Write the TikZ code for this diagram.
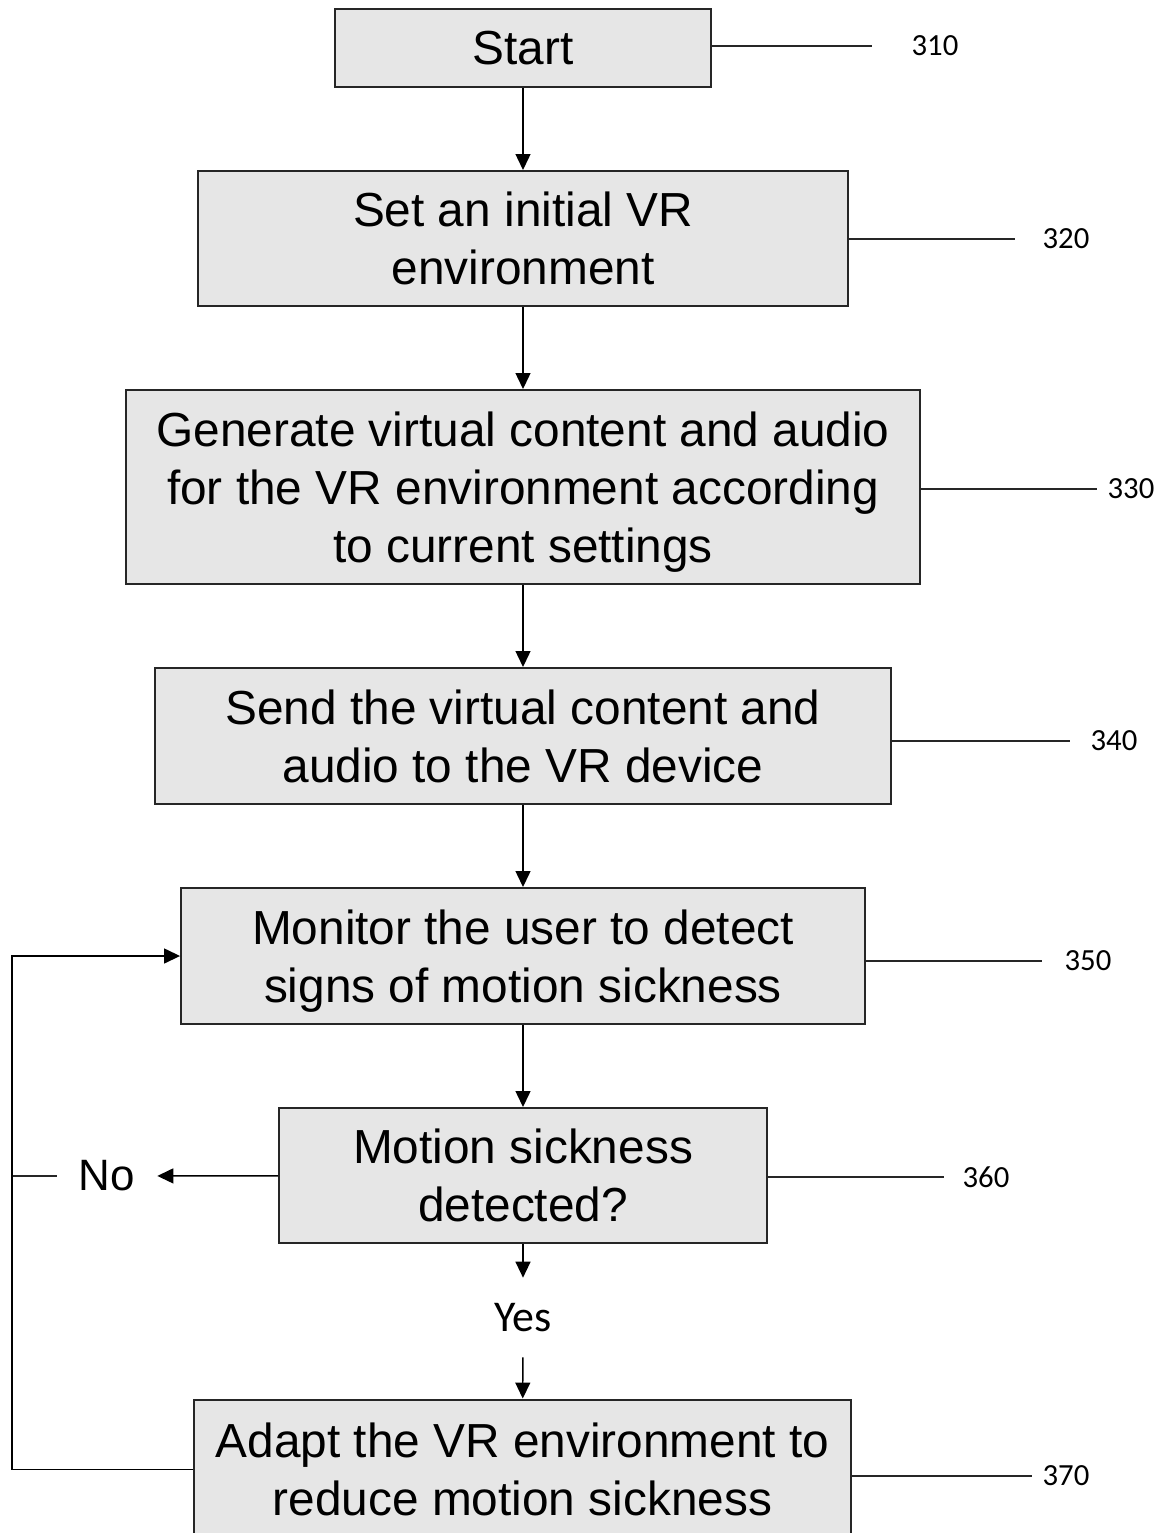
\documentclass[tikz,border=0pt]{standalone}
\usepackage{fontspec}
\setmainfont{Liberation Sans}
\newfontfamily\numfont{Carlito}
\usetikzlibrary{arrows.meta,positioning}

\definecolor{boxfill}{HTML}{E6E6E6}

\tikzset{
  stepbox/.style={draw=black!85, fill=boxfill, line width=0.04cm, align=center,
    inner sep=0pt, text depth=0pt, font=\fontsize{27.2}{33}\selectfont},
  reflabel/.style={inner sep=0pt, font=\numfont\fontsize{17.5}{20}\selectfont},
  refline/.style={line width=0.026cm, black!85},
  flow/.style={line width=0.028cm, -{Triangle[width=0.3cm,length=0.32cm]}},
}

\begin{document}
\begin{tikzpicture}[x=0.02cm, y=-0.02cm]
  \useasboundingbox (0,0) rectangle (1164,1533);
  \clip (0,0) rectangle (1164,1533);
  % steps
  \node (n310) at (523,48) [stepbox, minimum width=7.52cm, minimum height=1.56cm] {Start};
  \node (n320) at (523,238.5) [stepbox, minimum width=13cm, minimum height=2.7cm]
    {Set an initial VR\\environment};
  \node (n330) at (523,487) [stepbox, minimum width=15.88cm, minimum height=3.88cm]
    {Generate virtual content and audio\\for the VR environment according\\to current settings};
  \node (n340) at (523,736) [stepbox, minimum width=14.74cm, minimum height=2.72cm]
    {Send the virtual content and\\audio to the VR device};
  \node (n350) at (523,956) [stepbox, minimum width=13.68cm, minimum height=2.72cm]
    {Monitor the user to detect\\signs of motion sickness};
  \node (n360) at (523,1175.5) [stepbox, minimum width=9.76cm, minimum height=2.7cm]
    {Motion sickness\\detected?};
  \node (n370) at (522.5,1469.5) [stepbox, minimum width=13.14cm, minimum height=2.8cm]
    {Adapt the VR environment to\\reduce motion sickness};
  \node (yes) at (523,1317.5) [inner sep=0pt, minimum height=1.58cm,
    font=\numfont\fontsize{25}{28}\selectfont] {Yes};
  \node (no) at (107,1176) [inner sep=0pt, minimum width=2cm,
    font=\fontsize{25}{28}\selectfont] {No};
  \coordinate (lt) at (12,956);
  % flow
  \draw [flow] (n310) -- (n320);
  \draw [flow] (n320) -- (n330);
  \draw [flow] (n330) -- (n340);
  \draw [flow] (n340) -- (n350);
  \draw [flow] (n350) -- (n360);
  \draw [flow] (n360) -- (yes);
  \draw [flow] (yes) -- (n370);
  \draw [flow] (n360) -- (no);
  \draw [refline] (no.west) -- (no.west -| lt);
  \draw [flow] (n370.west) -- (n370.west -| lt) -- (lt) -- (n350.west);
  % reference numerals
  \foreach \id/\ex/\ey/\lx in {310/872/46/935, 320/1015/239/1066, 330/1097/489/1131,
      340/1070/741/1114, 350/1042/961/1088, 360/944/1177/986, 370/1032/1476/1066} {
    \coordinate (e\id) at (\ex,\ey);
    \draw [refline] (n\id.east |- e\id) -- (e\id);
    \node (l\id) at (\lx,\ey) [reflabel] {\id};
  }
\end{tikzpicture}
\end{document}
